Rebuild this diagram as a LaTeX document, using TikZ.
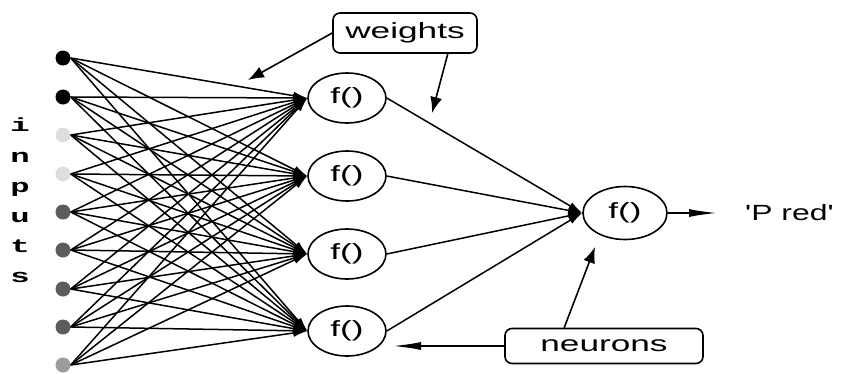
\documentclass[tikz,border=0pt]{standalone}
\usepackage{fontspec}
\setmainfont{Liberation Sans}
\newfontfamily\slabfont{Liberation Mono}
\usepackage{tikz}
\usetikzlibrary{arrows.meta,shapes.geometric}
\definecolor{dotdark}{HTML}{5C5C5C}
\definecolor{dotpale}{HTML}{DEDEDE}
\definecolor{dotmid}{HTML}{9C9C9C}
\newcommand{\wirewidth}{1.5pt}
\newcommand{\rimwidth}{1.6pt}
\newcommand{\widetext}[1]{\scalebox{1.6}[1]{#1}}

\begin{document}
\begin{tikzpicture}[x=1pt,y=-1pt,
  font=\fontsize{22}{26}\selectfont,
  dot/.style={circle,inner sep=0pt,minimum size=15pt},
  neuron/.style={draw,ellipse,line width=\rimwidth,inner sep=2pt},
  label box/.style={draw,rounded corners=7pt,line width=\rimwidth,inner sep=0pt},
  wire/.style={line width=\wirewidth,-{Latex[length=14pt,width=8pt]}},
  pointer/.style={line width=1.6pt,-{Latex[length=16pt,width=12pt]}},
  long pointer/.style={line width=1.6pt,-{Latex[length=28pt,width=8pt]}}]
\useasboundingbox[fill=white] (0,0) rectangle (841,373);
% input units
\node[dot,fill=black] (i1) at (63, 58) {};
\node[dot,fill=black] (i2) at (63, 97) {};
\node[dot,fill=dotpale] (i3) at (63, 135) {};
\node[dot,fill=dotpale] (i4) at (63, 174) {};
\node[dot,fill=dotdark] (i5) at (63, 212) {};
\node[dot,fill=dotdark] (i6) at (63, 250) {};
\node[dot,fill=dotdark] (i7) at (63, 289) {};
\node[dot,fill=dotdark] (i8) at (63, 327) {};
\node[dot,fill=dotmid] (i9) at (63, 365) {};
\node[anchor=base] (l1) at (20, 131) {\slabfont\bfseries\fontsize{19}{19}\selectfont\scalebox{1.7}[1]{i}};
\node[anchor=base] (l2) at (20, 162) {\slabfont\bfseries\fontsize{19}{19}\selectfont\scalebox{1.7}[1]{n}};
\node[anchor=base] (l3) at (20, 192) {\slabfont\bfseries\fontsize{19}{19}\selectfont\scalebox{1.7}[1]{p}};
\node[anchor=base] (l4) at (20, 222) {\slabfont\bfseries\fontsize{19}{19}\selectfont\scalebox{1.7}[1]{u}};
\node[anchor=base] (l5) at (20, 252) {\slabfont\bfseries\fontsize{19}{19}\selectfont\scalebox{1.7}[1]{t}};
\node[anchor=base] (l6) at (20, 282) {\slabfont\bfseries\fontsize{19}{19}\selectfont\scalebox{1.7}[1]{s}};
% hidden units
\node[neuron,minimum width=78pt,minimum height=50pt] (h1) at (347, 98) {\widetext{f()}};
\node[neuron,minimum width=78pt,minimum height=50pt] (h2) at (347, 176) {\widetext{f()}};
\node[neuron,minimum width=78pt,minimum height=50pt] (h3) at (347, 254) {\widetext{f()}};
\node[neuron,minimum width=78pt,minimum height=50pt] (h4) at (347, 331) {\widetext{f()}};
% output unit
\node[neuron,minimum width=84pt,minimum height=53pt] (o) at (625, 213) {\widetext{f()}};
\node[anchor=west,inner sep=0pt] (pred) at (745, 213) {\scalebox{1.45}[1]{\textquotesingle P red\textquotesingle}};
%h1
\draw[wire] (i1.east) -- (h1.west);
\draw[wire] (i2.east) -- (h1.west);
\draw[wire] (i3.east) -- (h1.west);
\draw[wire] (i4.east) -- (h1.west);
\draw[wire] (i5.east) -- (h1.west);
\draw[wire] (i6.east) -- (h1.west);
\draw[wire] (i7.east) -- (h1.west);
\draw[wire] (i8.east) -- (h1.west);
\draw[wire] (i9.east) -- (h1.west);
%h2
\draw[wire] (i1.east) -- (h2.west);
\draw[wire] (i2.east) -- (h2.west);
\draw[wire] (i3.east) -- (h2.west);
\draw[wire] (i4.east) -- (h2.west);
\draw[wire] (i5.east) -- (h2.west);
\draw[wire] (i6.east) -- (h2.west);
\draw[wire] (i7.east) -- (h2.west);
\draw[wire] (i8.east) -- (h2.west);
\draw[wire] (i9.east) -- (h2.west);
%h3
\draw[wire] (i1.east) -- (h3.west);
\draw[wire] (i2.east) -- (h3.west);
\draw[wire] (i3.east) -- (h3.west);
\draw[wire] (i4.east) -- (h3.west);
\draw[wire] (i5.east) -- (h3.west);
\draw[wire] (i6.east) -- (h3.west);
\draw[wire] (i7.east) -- (h3.west);
\draw[wire] (i8.east) -- (h3.west);
\draw[wire] (i9.east) -- (h3.west);
%h4
\draw[wire] (i1.east) -- (h4.west);
\draw[wire] (i2.east) -- (h4.west);
\draw[wire] (i3.east) -- (h4.west);
\draw[wire] (i4.east) -- (h4.west);
\draw[wire] (i5.east) -- (h4.west);
\draw[wire] (i6.east) -- (h4.west);
\draw[wire] (i7.east) -- (h4.west);
\draw[wire] (i8.east) -- (h4.west);
\draw[wire] (i9.east) -- (h4.west);
%o
\draw[wire] (h1.east) -- (o.west);
\draw[wire] (h2.east) -- (o.west);
\draw[wire] (h3.east) -- (o.west);
\draw[wire] (h4.east) -- (o.west);
\draw[long pointer] (o.east) -- (pred.west) [shorten >=28pt];
% callouts
\node[label box,minimum width=144pt,minimum height=40pt] (weights) at (405, 33) {\widetext{weights}};
\node[label box,minimum width=198pt,minimum height=35pt] (neurons) at (604, 346) {\widetext{neurons}\hspace{12pt}};
\coordinate (w1) at (248, 80);
\coordinate (w2) at (432, 113);
\coordinate (n1) at (595, 247);
\coordinate (n2) at (393, 346);
\draw[pointer] (weights.west) -- (w1);
\draw[pointer] ([xshift=-30pt]weights.south east) -- (w2);
\draw[pointer] ([xshift=60pt]neurons.north west) -- (n1);
\draw[long pointer] (neurons.west) -- (n2);
\end{tikzpicture}
\end{document}
